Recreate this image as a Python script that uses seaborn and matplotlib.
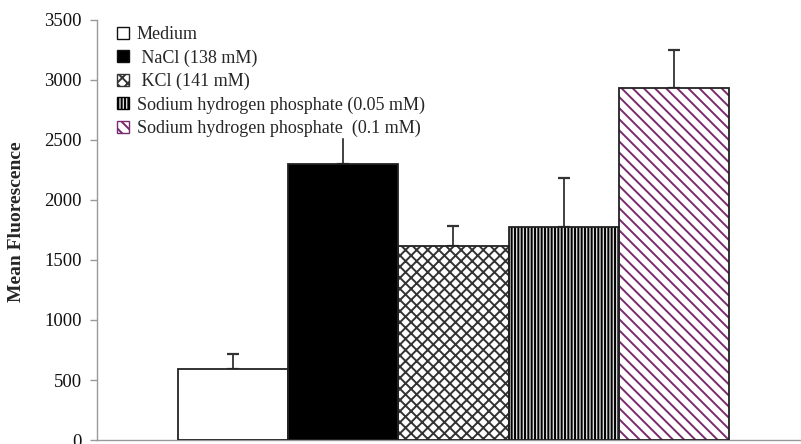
import matplotlib
matplotlib.use("Agg")
import matplotlib.pyplot as plt
import seaborn as sns
import pandas as pd
from matplotlib.patches import Patch

conditions = ["Medium", "NaCl (138 mM)", "KCl (141 mM)",
              "Sodium hydrogen phosphate (0.05 mM)",
              "Sodium hydrogen phosphate  (0.1 mM)"]
legend_labels = ["Medium", " NaCl (138 mM)", " KCl (141 mM)",
                 "Sodium hydrogen phosphate (0.05 mM)",
                 "Sodium hydrogen phosphate  (0.1 mM)"]
means = [595, 2300, 1615, 1775, 2935]
errors = [125, 260, 165, 410, 315]
yticks = [0, 500, 1000, 1500, 2000, 2500, 3000, 3500]

fills = ["white", "black", "white", "#d8d8d8", "white"]
hatches = [None, None, "xxx", "|||||", "\\\\\\"]
hatch_colors = ["#222222", "black", "#333333", "black", "#7a2a6e"]

sns.set_style("white")
plt.rcParams["font.family"] = ["Liberation Serif", "DejaVu Serif"]
plt.rcParams["hatch.linewidth"] = 1.4

df = pd.DataFrame({"cond": conditions, "mean": means})

fig = plt.figure(figsize=(8.01, 4.44), dpi=100)
ax = fig.add_axes([97 / 801, 4 / 444, (801 - 97) / 801, 420 / 444])

sns.barplot(data=df, x="cond", y="mean", order=conditions, width=1.0,
            color="white", ax=ax, errorbar=None, zorder=2)
for p, fc, h, hc in zip(ax.patches, fills, hatches, hatch_colors):
    p.set_facecolor(fc)
    p.set_edgecolor(hc)
    p.set_linewidth(0)
    if h:
        p.set_hatch(h)
# outlines
sns.barplot(data=df, x="cond", y="mean", order=conditions, width=1.0,
            fill=False, color="#222222", linewidth=1.3, ax=ax,
            errorbar=None, zorder=3)

xs = list(range(len(conditions)))
ax.errorbar(xs, means, yerr=[[0] * len(errors), errors], fmt="none",
            ecolor="#333333", elinewidth=1.3, capsize=4, capthick=1.6,
            zorder=1)

ax.set_ylim(0, 3500)
ax.set_yticks(yticks)
ax.set_yticklabels([str(t) for t in yticks], fontsize=13.5)
ax.set_xlim(-1.235, 4.5 + 72 / 110.2)
ax.set_xticks([])
ax.set_xlabel("")
ax.set_ylabel("Mean Fluorescence", fontsize=14, fontweight="bold")
ax.yaxis.set_label_coords(-0.102, 0.52)

for s in ["top", "right"]:
    ax.spines[s].set_visible(False)
for s in ["left", "bottom"]:
    ax.spines[s].set_color("#999999")
    ax.spines[s].set_linewidth(1.0)
ax.tick_params(axis="y", left=True, length=5, width=1, color="#999999",
               pad=6, labelcolor="#111111")

handles = []
for fc, h, hc in zip(fills, hatches, hatch_colors):
    handles.append(Patch(facecolor=fc, edgecolor=hc if h else "#111111",
                         hatch=h, linewidth=1.0))
leg = ax.legend(handles, legend_labels, loc="upper left",
                bbox_to_anchor=(0.029, 0.985), frameon=True, fontsize=13,
                handlelength=0.66, handleheight=0.62, handletextpad=0.42,
                labelspacing=0.34, borderpad=0.0, borderaxespad=0)
leg.get_frame().set_edgecolor("white")
leg.get_frame().set_facecolor("white")
leg.get_frame().set_alpha(1)
leg.set_zorder(10)

fig.savefig("out.png", dpi=100)
